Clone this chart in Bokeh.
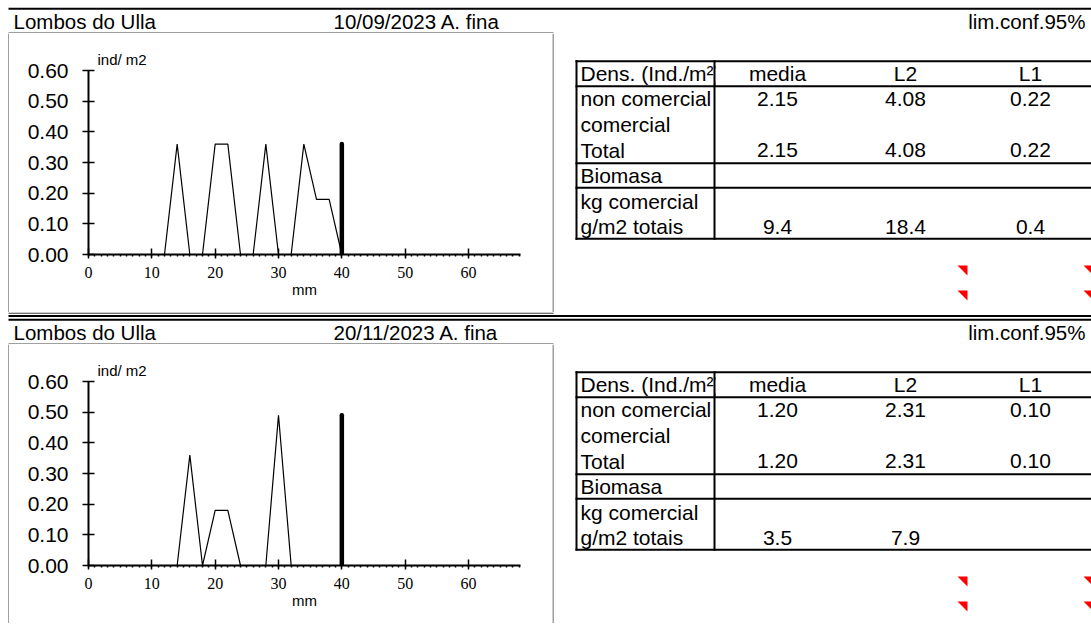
from bokeh.plotting import figure
from bokeh.models import Range1d, FixedTicker, NumeralTickFormatter
from bokeh.layouts import column, row
from bokeh.embed import file_html
from bokeh.resources import INLINE
from bokeh.core.properties import value

# ---------------- data ----------------
site = "Lombos do Ulla"
dates = ["10/09/2023 A. fina", "20/11/2023 A. fina"]
conf_label = "lim.conf.95%"

size_mm = [0, 2, 4, 6, 8, 10, 12, 14, 16, 18, 20, 22, 24, 26, 28, 30, 32, 34, 36, 38, 40]
dens_sep = [0, 0, 0, 0, 0, 0, 0, 0.36, 0, 0, 0.36, 0.36, 0, 0, 0.36, 0, 0, 0.36, 0.18, 0.18, 0]
dens_nov = [0, 0, 0, 0, 0, 0, 0, 0, 0.36, 0, 0.18, 0.18, 0, 0, 0, 0.49, 0, 0, 0, 0, 0]
comercial_mm = 40

x_ticks = [0, 10, 20, 30, 40, 50, 60]
y_ticks = [0.0, 0.1, 0.2, 0.3, 0.4, 0.5, 0.6]
x_label = "mm"
y_label = "ind/ m2"

row_labels = ["Dens. (Ind./m²)", "non comercial", "comercial", "Total", "Biomasa", "kg comercial", "g/m2 totais"]
col_labels = ["media", "L2", "L1"]
sep_media = ["2.15", "", "2.15", "", "", "9.4"]
sep_L2 = ["4.08", "", "4.08", "", "", "18.4"]
sep_L1 = ["0.22", "", "0.22", "", "", "0.4"]
nov_media = ["1.20", "", "1.20", "", "", "3.5"]
nov_L2 = ["2.31", "", "2.31", "", "", "7.9"]
nov_L1 = ["0.10", "", "0.10", "", "", ""]

sections = [
    dict(date=dates[0], dens=dens_sep, media=sep_media, L2=sep_L2, L1=sep_L1),
    dict(date=dates[1], dens=dens_nov, media=nov_media, L2=nov_L2, L1=nov_L1),
]

# ---------------- layout constants (screen pixels) ----------------
SANS = "Liberation Sans"
SERIF = "Liberation Serif"
W = 1091
DY = [0, 311]
MID = [(33, 312), (344, 623)]
BOX_COLOR = "#404040"
FX0, FX1 = 88, 520
FY_TOP, FY_BOT = 70, 254
PX_MM = 380.0 / 60.0
XMAX = (FX1 - FX0) / PX_MM
CHART_X0, CHART_X1 = 9, 552


def no_align(p):
    if "frame_align" in p.properties():
        p.frame_align = False


def canvas(x0, x1, y0, y1):
    p = figure(width=x1 - x0, height=y1 - y0, x_range=Range1d(x0, x1), y_range=Range1d(y1, y0),
               min_border=0, x_axis_type=None, y_axis_type=None,
               output_backend="svg", toolbar_location=None)
    p.xgrid.visible = False
    p.ygrid.visible = False
    p.outline_line_color = None
    p.background_fill_color = "white"
    p.border_fill_color = "white"
    no_align(p)
    return p


def bar(p, x0, x1, y0, y1, color="black"):
    p.quad(left=[x0], right=[x1], top=[y0], bottom=[y1], fill_color=color, line_color=None)


def txt(p, x, y, t, size="20.5px", align="left"):
    # y is the vertical centre of the capitals
    p.text(x=[x], y=[y], text=[t], text_font=value(SANS), text_font_size=size,
           text_align=align, text_baseline="middle", text_color="black")


def header_items(p, i):
    dy = DY[i]
    s = sections[i]
    bar(p, 8, W, 7.3 + dy, 9.3 + dy)
    txt(p, 13, 20.5 + dy, site)
    txt(p, 333, 20.5 + dy, s["date"])
    txt(p, 1085, 20.8 + dy, conf_label, align="right")
    bar(p, 8, 553, 32 + dy, 33 + dy, BOX_COLOR)


def chart(i):
    s = sections[i]
    dy = DY[i]
    y0, y1 = MID[i]
    p = figure(width=CHART_X1 - CHART_X0, height=y1 - y0,
               x_range=Range1d(0, XMAX), y_range=Range1d(0, 0.6),
               output_backend="svg", toolbar_location=None,
               min_border_left=FX0 - CHART_X0, min_border_right=CHART_X1 - FX1,
               min_border_top=FY_TOP + dy - y0, min_border_bottom=y1 - (FY_BOT + dy))
    no_align(p)
    p.xgrid.visible = False
    p.ygrid.visible = False
    p.outline_line_color = None
    p.background_fill_color = "white"
    p.border_fill_color = "white"

    p.line(size_mm, s["dens"], line_color="black", line_width=1.2)
    p.segment(x0=[comercial_mm], y0=[0], x1=[comercial_mm], y1=[max(s["dens"])],
              line_color="black", line_width=4.5, line_cap="round")

    p.title.text = y_label
    p.title.align = "left"
    p.title.offset = 9
    p.title.standoff = 5
    p.title.text_font = SANS
    p.title.text_font_size = "15px"
    p.title.text_font_style = "normal"
    p.title.text_color = "black"

    xa = p.xaxis[0]
    xa.ticker = FixedTicker(ticks=x_ticks, minor_ticks=list(range(0, 69)))
    xa.axis_line_width = 2
    xa.major_tick_in = 6
    xa.major_tick_out = 4
    xa.major_tick_line_width = 1.5
    xa.minor_tick_in = 0
    xa.minor_tick_out = 2
    xa.minor_tick_line_width = 1.5
    xa.major_label_text_font = SERIF
    xa.major_label_text_font_size = "16px"
    xa.major_label_text_color = "black"
    xa.major_label_standoff = 8
    xa.axis_label = x_label
    xa.axis_label_text_font = SANS
    xa.axis_label_text_font_size = "15px"
    xa.axis_label_text_font_style = "normal"
    xa.axis_label_text_color = "black"
    xa.axis_label_standoff = 0

    ya = p.yaxis[0]
    ya.ticker = FixedTicker(ticks=y_ticks, minor_ticks=[])
    ya.formatter = NumeralTickFormatter(format="0.00")
    ya.axis_line_width = 2
    ya.major_tick_in = 6
    ya.major_tick_out = 6
    ya.major_tick_line_width = 1.5
    ya.minor_tick_line_color = None
    ya.major_label_text_font = SANS
    ya.major_label_text_font_size = "21px"
    ya.major_label_text_color = "black"
    ya.major_label_standoff = 14
    return p


def table(i):
    s = sections[i]
    dy = DY[i]
    y0, y1 = MID[i]
    p = canvas(CHART_X1, W, y0, y1)
    # box right side
    bar(p, 552, 553, y0, y1, BOX_COLOR)

    mid = [72.8 + 25.6 * k + dy for k in range(7)]
    for k, lab in enumerate(row_labels):
        txt(p, 580, mid[k], lab, size="21px")
    # hide overflow of the first header cell
    bar(p, 715, 752, 62 + dy, 84.6 + dy, "white")

    col_x = [777, 905, 1030]
    for cx, lab, key in zip(col_x, col_labels, ["media", "L2", "L1"]):
        txt(p, cx, mid[0], lab, size="21px", align="center")
        for k, v in enumerate(s[key]):
            if v:
                txt(p, cx, mid[k + 1], v, size="21px", align="center")

    for h in [60.7, 85.7, 162.7, 187.3, 238.3]:
        bar(p, 575, W, h - 1 + dy, h + 1 + dy)
    for vx in [576, 714]:
        bar(p, vx - 1, vx + 1, 59.7 + dy, 239.3 + dy)

    # comment indicators
    tri_x = [[957, 967, 967], [957, 967, 967], [1083, 1093, 1093], [1083, 1093, 1093]]
    tri_y = [[265 + dy, 265 + dy, 275 + dy], [290 + dy, 290 + dy, 300 + dy],
             [265 + dy, 265 + dy, 275 + dy], [290 + dy, 290 + dy, 300 + dy]]
    p.patches(xs=tri_x, ys=tri_y, fill_color="#ff0000", line_color=None)
    return p


def left_edge(i):
    y0, y1 = MID[i]
    p = canvas(0, CHART_X0, y0, y1)
    bar(p, 8, 9, y0, y1, BOX_COLOR)
    return p


# header strip of section 1
head1 = canvas(0, W, 0, 33)
header_items(head1, 0)

# junction strip: bottom of section 1 + header of section 2
junc = canvas(0, W, 312, 344)
bar(junc, 8, 553, 312, 313.2, BOX_COLOR)
bar(junc, 8, W, 314.5, 316.5)
header_items(junc, 1)

layout = column(
    head1,
    row(left_edge(0), chart(0), table(0)),
    junc,
    row(left_edge(1), chart(1), table(1)),
)
open("out.html", "w").write(file_html(layout, INLINE))
